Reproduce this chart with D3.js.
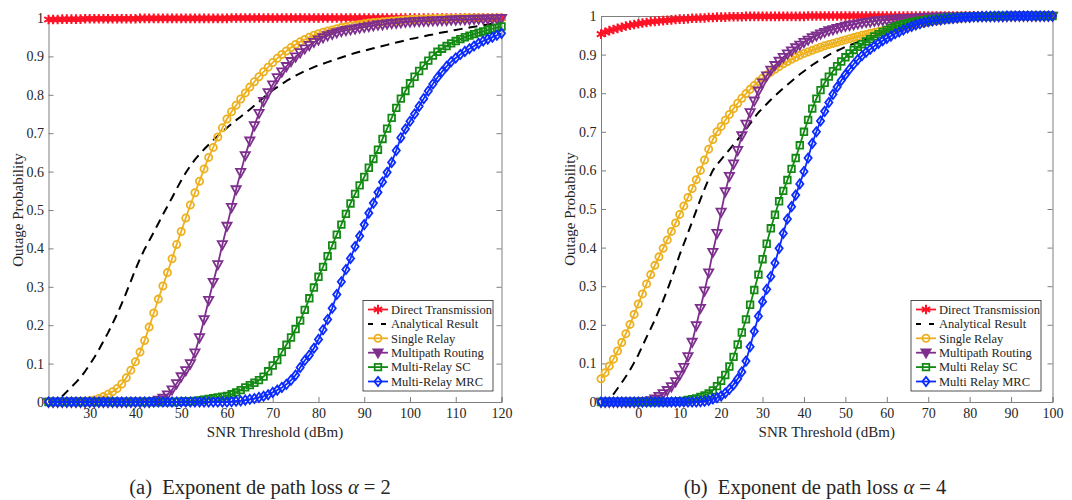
<!DOCTYPE html>
<html><head><meta charset="utf-8">
<script src="https://cdn.jsdelivr.net/npm/d3@7"></script>
<style>
body{margin:0;background:#fff}
svg{display:block}
text{font-family:"Liberation Serif","Times New Roman",serif;fill:#262626}
</style>
</head><body>
<svg id="chart" width="1072" height="500"></svg>
<script>
// ---------- DATA ----------
const xLeft = [21,22,23,24,25,26,27,28,29,30,31,32,33,34,35,36,37,38,39,40,41,42,43,44,45,46,47,48,49,50,
51,52,53,54,55,56,57,58,59,60,61,62,63,64,65,66,67,68,69,70,71,72,73,74,75,76,77,78,79,80,
81,82,83,84,85,86,87,88,89,90,91,92,93,94,95,96,97,98,99,100,101,102,103,104,105,106,107,108,109,110,
111,112,113,114,115,116,117,118,119,120];
const xRight = [-9,-8,-7,-6,-5,-4,-3,-2,-1,0,1,2,3,4,5,6,7,8,9,10,11,12,13,14,15,16,17,18,19,20,
21,22,23,24,25,26,27,28,29,30,31,32,33,34,35,36,37,38,39,40,41,42,43,44,45,46,47,48,49,50,
51,52,53,54,55,56,57,58,59,60,61,62,63,64,65,66,67,68,69,70,71,72,73,74,75,76,77,78,79,80,
81,82,83,84,85,86,87,88,89,90,91,92,93,94,95,96,97,98,99,100];

const xTicksLeft = [30,40,50,60,70,80,90,100,110,120];
const xTicksRight = [0,10,20,30,40,50,60,70,80,90,100];
const yTicks = [0,0.1,0.2,0.3,0.4,0.5,0.6,0.7,0.8,0.9,1];
const yTickLabels = ["0","0.1","0.2","0.3","0.4","0.5","0.6","0.7","0.8","0.9","1"];

const legendLeft = ["Direct Transmission","Analytical Result","Single Relay","Multipath Routing","Multi-Relay SC","Multi-Relay MRC"];
const legendRight = ["Direct Transmission","Analytical Result","Single Relay","Multipath Routing","Multi Relay SC","Multi Relay MRC"];
const xAxisTitle = "SNR Threshold (dBm)";
const yAxisTitle = "Outage Probability";
const captionTags = ["(a)","(b)"];
const captionText = "Exponent de path loss ";
const captionAlpha = ["2","4"];

// Left panel (alpha = 2)
const directL = [0.996,0.996,0.996,0.997,0.997,0.997,0.997,0.997,0.998,0.998,
0.998,0.998,0.998,0.998,0.998,0.998,0.998,0.998,0.998,0.998,
0.999,0.999,0.999,0.999,0.999,0.999,0.999,0.999,0.999,0.999,
0.999,0.999,0.999,0.999,0.999,0.999,0.999,0.999,0.999,0.999,
1,1,1,1,1,1,1,1,1,1, 1,1,1,1,1,1,1,1,1,1, 1,1,1,1,1,1,1,1,1,1,
1,1,1,1,1,1,1,1,1,1, 1,1,1,1,1,1,1,1,1,1, 1,1,1,1,1,1,1,1,1,1];
const analyticL = [0,0,0.005,0.015,0.027,0.039,0.051,0.064,0.08,0.097,
0.116,0.136,0.158,0.18,0.204,0.229,0.256,0.285,0.315,0.345,
0.373,0.398,0.42,0.442,0.465,0.488,0.51,0.532,0.555,0.577,
0.597,0.615,0.631,0.645,0.658,0.67,0.682,0.693,0.704,0.714,
0.724,0.734,0.743,0.752,0.762,0.772,0.782,0.793,0.803,0.812,
0.82,0.828,0.836,0.843,0.85,0.856,0.862,0.867,0.872,0.877,
0.881,0.885,0.889,0.893,0.897,0.901,0.905,0.909,0.912,0.915,
0.918,0.921,0.924,0.927,0.93,0.933,0.936,0.939,0.942,0.945,
0.947,0.95,0.952,0.955,0.957,0.96,0.962,0.964,0.967,0.969,
0.971,0.973,0.975,0.977,0.979,0.981,0.983,0.985,0.987,0.989];
const singleL = [0,0,0,0,0,0.001,0.001,0.001,0.002,0.003,
0.005,0.009,0.014,0.02,0.027,0.035,0.047,0.063,0.083,0.105,
0.13,0.16,0.195,0.232,0.268,0.302,0.337,0.373,0.41,0.444,
0.479,0.513,0.545,0.575,0.607,0.637,0.663,0.69,0.714,0.737,
0.756,0.773,0.789,0.805,0.82,0.834,0.847,0.86,0.872,0.884,
0.895,0.905,0.914,0.923,0.931,0.938,0.944,0.95,0.955,0.959,
0.963,0.966,0.969,0.972,0.975,0.977,0.979,0.981,0.983,0.985,
0.987,0.988,0.989,0.99,0.991,0.992,0.993,0.994,0.995,0.996,
0.996,0.997,0.997,0.998,0.998,0.998,0.999,0.999,0.999,0.999,
0.999,1,1,1,1,1,1,1,1,1];
const multipathL = [0,0,0,0,0,0,0,0,0,0,
0,0,0,0,0,0,0,0,0,0,
0,0,0,0.002,0.005,0.01,0.019,0.032,0.048,0.066,
0.082,0.1,0.128,0.168,0.215,0.265,0.312,0.358,0.41,0.458,
0.507,0.553,0.598,0.642,0.68,0.72,0.752,0.783,0.806,0.826,
0.845,0.86,0.874,0.887,0.899,0.91,0.92,0.929,0.937,0.943,
0.949,0.954,0.958,0.962,0.965,0.968,0.97,0.972,0.974,0.976,
0.978,0.98,0.982,0.983,0.985,0.986,0.987,0.988,0.989,0.99,
0.991,0.991,0.992,0.992,0.993,0.993,0.994,0.994,0.995,0.995,
0.996,0.996,0.996,0.997,0.997,0.997,0.998,0.998,0.998,0.999];
const scL = [0,0,0,0,0,0,0,0,0,0,
0,0,0,0,0,0,0,0,0,0,
0,0,0,0,0,0,0,0,0,0.001,
0.002,0.002,0.003,0.004,0.006,0.008,0.01,0.012,0.014,0.016,
0.02,0.025,0.031,0.038,0.044,0.05,0.057,0.066,0.08,0.095,
0.109,0.13,0.149,0.168,0.19,0.212,0.24,0.27,0.298,0.326,
0.352,0.38,0.408,0.436,0.462,0.49,0.517,0.542,0.564,0.586,
0.61,0.633,0.657,0.685,0.712,0.74,0.766,0.79,0.81,0.83,
0.847,0.862,0.876,0.889,0.902,0.912,0.92,0.927,0.934,0.94,
0.945,0.95,0.954,0.958,0.962,0.965,0.969,0.972,0.975,0.978];
const mrcL = [0,0,0,0,0,0,0,0,0,0,
0,0,0,0,0,0,0,0,0,0,
0,0,0,0,0,0,0,0,0,0,
0,0,0,0,0,0,0,0,0,0,
0.001,0.002,0.003,0.005,0.007,0.009,0.012,0.015,0.019,0.025,
0.031,0.038,0.046,0.057,0.07,0.09,0.108,0.122,0.14,0.163,
0.188,0.215,0.244,0.28,0.313,0.345,0.374,0.405,0.432,0.462,
0.492,0.518,0.546,0.573,0.598,0.624,0.655,0.688,0.711,0.731,
0.75,0.77,0.79,0.81,0.828,0.845,0.86,0.874,0.886,0.896,
0.905,0.913,0.92,0.927,0.934,0.94,0.945,0.95,0.955,0.96];

// Right panel (alpha = 4)
const directR = [0.953,0.958,0.962,0.965,0.968,0.971,0.974,0.976,0.978,0.98,
0.982,0.983,0.985,0.986,0.987,0.988,0.989,0.99,0.991,0.992,
0.992,0.993,0.994,0.994,0.995,0.995,0.996,0.996,0.997,0.997,
0.997,0.998,0.998,0.998,0.998,0.999,0.999,0.999,0.999,0.999,
0.999,0.999,0.999,0.999,0.999,0.999,0.999,0.999,0.999,0.999,
1,1,1,1,1,1,1,1,1,1, 1,1,1,1,1,1,1,1,1,1, 1,1,1,1,1,1,1,1,1,1,
1,1,1,1,1,1,1,1,1,1, 1,1,1,1,1,1,1,1,1,1, 1,1,1,1,1,1,1,1,1,1];
const analyticR = [0,0,0.008,0.02,0.035,0.05,0.066,0.083,0.102,0.122,
0.145,0.168,0.19,0.213,0.238,0.263,0.29,0.319,0.35,0.382,
0.41,0.438,0.467,0.496,0.525,0.552,0.578,0.6,0.615,0.628,
0.641,0.654,0.667,0.68,0.693,0.707,0.721,0.736,0.75,0.761,
0.772,0.783,0.793,0.803,0.813,0.822,0.831,0.84,0.849,0.857,
0.865,0.873,0.88,0.887,0.893,0.899,0.905,0.91,0.915,0.92,
0.924,0.928,0.932,0.936,0.94,0.943,0.946,0.949,0.952,0.955,
0.958,0.96,0.963,0.965,0.968,0.97,0.972,0.974,0.976,0.978,
0.98,0.982,0.983,0.985,0.986,0.987,0.988,0.989,0.99,0.991,
0.992,0.993,0.994,0.995,0.995,0.996,0.996,0.997,0.997,0.998,
0.998,0.998,0.999,0.999,0.999,0.999,1,1,1,1];
const singleR = [0.06,0.076,0.093,0.111,0.132,0.154,0.177,0.201,0.227,0.254,
0.28,0.306,0.33,0.354,0.376,0.398,0.42,0.442,0.464,0.486,
0.508,0.53,0.553,0.576,0.6,0.627,0.655,0.68,0.7,0.714,
0.73,0.745,0.76,0.774,0.787,0.799,0.81,0.82,0.83,0.839,
0.847,0.855,0.862,0.869,0.876,0.882,0.888,0.893,0.898,0.903,
0.907,0.911,0.915,0.919,0.923,0.926,0.929,0.932,0.935,0.938,
0.941,0.944,0.947,0.95,0.952,0.955,0.957,0.96,0.962,0.964,
0.966,0.968,0.97,0.972,0.974,0.976,0.978,0.98,0.982,0.984,
0.986,0.987,0.989,0.99,0.991,0.992,0.993,0.994,0.995,0.996,
0.997,0.997,0.998,0.998,0.999,0.999,0.999,0.999,0.999,1,
1,1,1,1,1,1,1,1,1,1];
const multipathR = [0,0,0,0,0,0,0,0,0,0,
0.001,0.002,0.004,0.008,0.015,0.022,0.03,0.04,0.053,0.07,
0.09,0.118,0.155,0.198,0.243,0.288,0.335,0.388,0.437,0.492,
0.545,0.585,0.617,0.652,0.69,0.72,0.75,0.78,0.806,0.827,
0.845,0.86,0.872,0.883,0.893,0.902,0.91,0.918,0.925,0.932,
0.938,0.944,0.949,0.954,0.958,0.962,0.965,0.968,0.971,0.974,
0.976,0.978,0.98,0.982,0.984,0.985,0.987,0.988,0.989,0.99,
0.991,0.992,0.993,0.994,0.994,0.995,0.995,0.996,0.996,0.997,
0.997,0.997,0.998,0.998,0.998,0.998,0.998,0.998,0.998,0.998,
0.999,0.999,0.999,0.999,0.999,0.999,0.999,0.999,0.999,1,
1,1,1,1,1,1,1,1,1,1];
const scR = [0,0,0,0,0,0,0,0,0,0,
0,0,0,0,0,0,0,0.001,0.001,0.002,
0.003,0.005,0.007,0.009,0.013,0.017,0.022,0.03,0.041,0.055,
0.07,0.092,0.117,0.149,0.18,0.214,0.252,0.29,0.33,0.37,
0.41,0.45,0.485,0.52,0.547,0.575,0.604,0.632,0.665,0.7,
0.731,0.76,0.786,0.808,0.827,0.843,0.857,0.87,0.882,0.893,
0.903,0.912,0.92,0.927,0.934,0.94,0.947,0.953,0.959,0.964,
0.969,0.973,0.976,0.979,0.982,0.984,0.986,0.988,0.989,0.991,
0.992,0.993,0.994,0.995,0.996,0.997,0.997,0.998,0.998,0.999,
0.999,0.999,0.999,0.999,0.999,1,1,1,1,1,
1,1,1,1,1,1,1,1,1,1];
const mrcR = [0,0,0,0,0,0,0,0,0,0,
0,0,0,0,0,0,0,0,0,0,
0,0,0,0,0.001,0.002,0.004,0.008,0.011,0.016,
0.023,0.033,0.045,0.06,0.078,0.106,0.143,0.183,0.222,0.26,
0.292,0.325,0.36,0.398,0.437,0.474,0.506,0.536,0.565,0.597,
0.632,0.67,0.7,0.728,0.753,0.776,0.797,0.816,0.833,0.848,
0.862,0.875,0.887,0.897,0.906,0.914,0.922,0.929,0.936,0.942,
0.948,0.954,0.959,0.964,0.969,0.973,0.977,0.98,0.983,0.985,
0.987,0.989,0.99,0.992,0.993,0.994,0.995,0.996,0.997,0.997,
0.998,0.998,0.999,0.999,0.999,0.999,0.999,0.999,1,1,
1,1,1,1,1,1,1,1,1,1];

// ---------- STYLE ----------
const colors = ["#ff1226","#000000","#edb120","#7e2f8e","#138a13","#0b2bff"];
const markerTypes = ["asterisk",null,"circle","triangle","square","diamond"];
const markerPaths = {
  asterisk: "M0,-4.8V4.8M-4.2,-2.4L4.2,2.4M-4.2,2.4L4.2,-2.4",
  circle: "M3.6,0A3.6,3.6,0,1,1,-3.6,0A3.6,3.6,0,1,1,3.6,0Z",
  triangle: "M-4.6,-3.4L4.6,-3.4L0,4.8Z",
  square: "M-3.3,-3.3H3.3V3.3H-3.3Z",
  diamond: "M0,-4.6L3.6,0L0,4.6L-3.6,0Z"
};
const markerStroke = [2,0,1.8,1.8,1.8,1.8];

const panels = [
  {xs:xLeft, series:[directL,analyticL,singleL,multipathL,scL,mrcL], names:legendLeft,
   xTicks:xTicksLeft, domain:[21,120], left:48.5, right:501.5, top:18, bottom:402,
   legendX:363, yTitleX:18, captionX:260},
  {xs:xRight, series:[directR,analyticR,singleR,multipathR,scR,mrcR], names:legendRight,
   xTicks:xTicksRight, domain:[-9,100], left:601, right:1052.5, top:16, bottom:402,
   legendX:911, yTitleX:570, captionX:815}
];

const svg = d3.select("#chart");
const axisColor = "#7f7f7f";

panels.forEach((p, pi) => {
  const x = d3.scaleLinear().domain(p.domain).range([p.left, p.right]);
  const y = d3.scaleLinear().domain([0,1]).range([p.bottom, p.top]);
  const g = svg.append("g");
  const tl = 5;

  const axB = d3.axisBottom(x).tickValues(p.xTicks).tickSize(-tl).tickPadding(6).tickFormat(d3.format("d"));
  const axT = d3.axisTop(x).tickValues(p.xTicks).tickSize(-tl).tickFormat("");
  const axL = d3.axisLeft(y).tickValues(yTicks).tickSize(-tl).tickPadding(4.5).tickFormat((d,i)=>yTickLabels[i]);
  const axR = d3.axisRight(y).tickValues(yTicks).tickSize(-tl).tickFormat("");
  const gb = g.append("g").attr("transform",`translate(0,${p.bottom})`).call(axB);
  const gt = g.append("g").attr("transform",`translate(0,${p.top})`).call(axT);
  const gl = g.append("g").attr("transform",`translate(${p.left},0)`).call(axL);
  const gr = g.append("g").attr("transform",`translate(${p.right},0)`).call(axR);
  [gb,gt,gl,gr].forEach(a => {
    a.attr("font-family",null);
    a.select(".domain").attr("stroke",axisColor).attr("stroke-width",1);
    a.selectAll(".tick line").attr("stroke",axisColor);
    a.selectAll(".tick text").attr("font-size",14).attr("fill","#262626");
  });

  p.series.forEach((vals, si) => {
    const pts = p.xs.map((xv,i)=>[xv, vals[i]]);
    const line = d3.line().x(d=>x(d[0])).y(d=>y(d[1]));
    const path = g.append("path").datum(pts).attr("d",line)
      .attr("fill","none").attr("stroke",colors[si]).attr("stroke-width", si===1?2:1.8)
      .attr("stroke-linejoin","round");
    if (si===1) path.attr("stroke-dasharray","9,6");
    if (markerTypes[si]) {
      g.append("g").selectAll("path").data(pts).join("path")
        .attr("transform",d=>`translate(${x(d[0])},${y(d[1])})`)
        .attr("d",markerPaths[markerTypes[si]])
        .attr("fill","none").attr("stroke",colors[si]).attr("stroke-width",markerStroke[si]);
    }
  });

  g.append("text").attr("x",(p.left+p.right)/2).attr("y",437).attr("text-anchor","middle")
    .attr("font-size",15).text(xAxisTitle);
  g.append("text").attr("transform",`translate(${p.yTitleX},${(p.top+p.bottom)/2}) rotate(-90)`)
    .attr("text-anchor","middle").attr("dy","0.35em").attr("font-size",15).text(yAxisTitle);

  const lx = p.legendX, ly = 300.5, lw = 130, lh = 90.5, rowH = 14.4;
  g.append("rect").attr("x",lx).attr("y",ly).attr("width",lw).attr("height",lh)
    .attr("fill","#fff").attr("stroke","#262626").attr("stroke-width",0.8);
  p.names.forEach((name, si) => {
    const cy = ly + 9 + si*rowH;
    const lg = g.append("g");
    lg.append("line").attr("x1",lx+5).attr("x2",lx+25).attr("y1",cy).attr("y2",cy)
      .attr("stroke",colors[si]).attr("stroke-width", si===1?2:1.8)
      .attr("stroke-dasharray", si===1 ? "5,8" : null);
    if (markerTypes[si]) {
      lg.append("path").attr("transform",`translate(${lx+15},${cy})`).attr("d",markerPaths[markerTypes[si]])
        .attr("fill", si===3 ? colors[si] : "none").attr("stroke",colors[si]).attr("stroke-width",markerStroke[si]);
    }
    lg.append("text").attr("x",lx+28).attr("y",cy).attr("dy","0.35em").attr("font-size",12.5).text(name);
  });

  const cap = svg.append("text").attr("x",p.captionX).attr("y",494).attr("text-anchor","middle")
    .attr("font-size",20.5).attr("fill","#000");
  cap.append("tspan").text(captionTags[pi] + "\u00a0\u00a0" + captionText);
  cap.append("tspan").attr("font-style","italic").text("\u03b1");
  cap.append("tspan").text(" = " + captionAlpha[pi]);
});
</script>
</body></html>
